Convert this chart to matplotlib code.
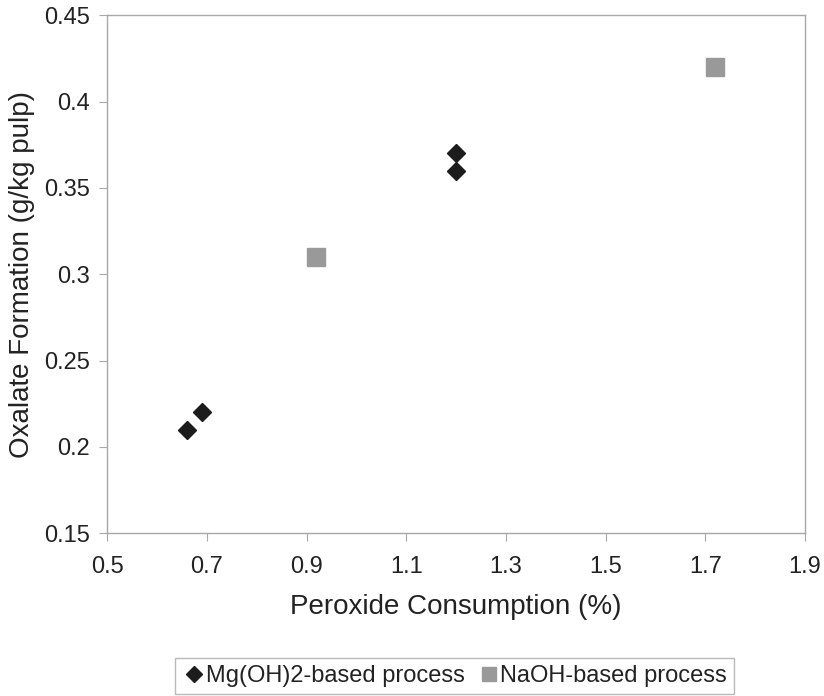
import matplotlib
matplotlib.use("Agg")
import matplotlib.pyplot as plt

plt.rcParams["font.family"] = ["Liberation Sans", "DejaVu Sans"]

# peroxide consumption (%) vs oxalate formation (g/kg pulp)
mg_x = [0.66, 0.69, 1.20, 1.20]
mg_y = [0.21, 0.22, 0.36, 0.37]
naoh_x = [0.92, 1.72]
naoh_y = [0.31, 0.42]

x_ticks = [0.5, 0.7, 0.9, 1.1, 1.3, 1.5, 1.7, 1.9]
y_ticks = [0.15, 0.2, 0.25, 0.3, 0.35, 0.4, 0.45]


def main():
    fig = plt.figure(figsize=(8.24, 6.96), dpi=100)
    ax = fig.add_axes([0.130, 0.234, 0.847, 0.744])

    ax.plot(mg_x, mg_y, linestyle="none", marker="D", ms=9.5,
            color="#1c1c1c", label="Mg(OH)2-based process")
    ax.plot(naoh_x, naoh_y, linestyle="none", marker="s", ms=12.5,
            color="#999999", label="NaOH-based process")

    ax.set_xlim(0.5, 1.9)
    ax.set_ylim(0.15, 0.45)
    ax.set_xticks(x_ticks)
    ax.set_yticks(y_ticks)
    ax.set_xticklabels([f"{v:g}" for v in x_ticks])
    ax.set_yticklabels([f"{v:g}" for v in y_ticks])

    for sp in ax.spines.values():
        sp.set_color("#a8a8a8")
        sp.set_linewidth(1.0)
    ax.tick_params(colors="#a8a8a8", labelcolor="#222222", labelsize=17,
                   length=5.5, direction="out")
    ax.tick_params(axis="x", pad=11)
    ax.tick_params(axis="y", pad=7)

    ax.set_xlabel("Peroxide Consumption (%)", fontsize=20, color="#222222")
    ax.set_ylabel("Oxalate Formation (g/kg pulp)", fontsize=20,
                  color="#222222")
    ax.xaxis.set_label_coords(0.5, -0.118)
    ax.yaxis.set_label_coords(-0.104, 0.5)

    leg = fig.legend(loc="center", bbox_to_anchor=(0.552, 0.029), ncol=2,
                     fontsize=17, frameon=True, fancybox=False,
                     handletextpad=0.0, columnspacing=0.5, handlelength=1.0,
                     borderpad=0.3, borderaxespad=0, markerscale=0.85)
    leg.get_frame().set_edgecolor("#a8a8a8")
    leg.get_frame().set_linewidth(1.0)
    for t in leg.get_texts():
        t.set_color("#222222")

    fig.savefig("out.png", dpi=100)


if __name__ == "__main__":
    main()
